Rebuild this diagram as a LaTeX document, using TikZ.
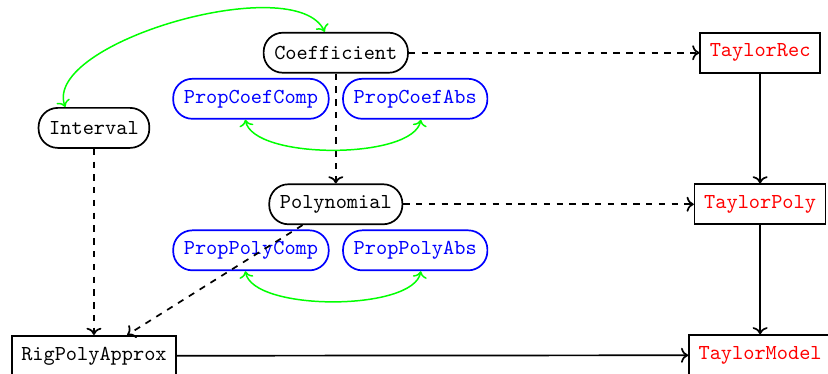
\documentclass[tikz,border=0pt]{standalone}
\usepackage{amsmath}
\usepackage{tikz}
\usetikzlibrary{arrows.meta, positioning}

\begin{document}
\begin{tikzpicture}[
        module/.style={rectangle, rounded corners=9pt, draw=black, thick, inner xsep=5pt, minimum height=0.66cm, font=\ttfamily},
        prop/.style={rectangle, rounded corners=9pt, draw=blue, text=blue, thick, inner xsep=5pt, minimum height=0.66cm, font=\ttfamily},
        model/.style={rectangle, draw=black, text=red, thick, inner xsep=4.5pt, minimum height=0.66cm, font=\ttfamily},
        approx/.style={rectangle, draw=black, thick, inner xsep=4.5pt, minimum height=0.66cm, font=\ttfamily},
        depends/.style={->, dashed, thick},
        builds/.style={->, thick},
        relates/.style={<->, green, line width=0.7pt},
    ]
        \useasboundingbox (0,0) rectangle (13.66,-6.155);

        % generic modules
        \node[module] (coef) at (5.54,-0.87) {Coefficient};
        \node[module] (interval) at (1.55,-2.11) {Interval};
        \node[module] (poly) at (5.54,-3.37) {Polynomial};

        % property modules
        \node[prop] (coefcomp) at (4.14,-1.63) {PropCoefComp};
        \node[prop] (coefabs) at (6.85,-1.63) {PropCoefAbs};
        \node[prop] (polycomp) at (4.14,-4.13) {PropPolyComp};
        \node[prop] (polyabs) at (6.85,-4.13) {PropPolyAbs};

        % Taylor side
        \node[model] (trec) at (12.54,-0.87) {TaylorRec};
        \node[model] (tpoly) at (12.54,-3.37) {TaylorPoly};
        \node[model] (tmodel) at (12.54,-5.86) {TaylorModel};
        \node[approx] (rpa) at (1.55,-5.87) {RigPolyApprox};

        \draw[depends] (coef) -- (trec);
        \draw[depends] (coef) -- (poly);
        \draw[depends] (poly) -- (tpoly);
        \draw[depends] (poly) -- (rpa);
        \draw[depends] (interval) -- (rpa);

        \draw[builds] (trec) -- (tpoly);
        \draw[builds] (tpoly) -- (tmodel);
        \draw[builds] (rpa) -- (tmodel);

        \draw[relates] (interval.144) to[out=110, in=115, looseness=0.65] (coef.118);
        \draw[relates] (coefcomp.-105) to[out=-80, in=-100, looseness=0.6] (coefabs.-75);
        \draw[relates] (polycomp.-105) to[out=-80, in=-100, looseness=0.6] (polyabs.-75);
    \end{tikzpicture}
\end{document}
